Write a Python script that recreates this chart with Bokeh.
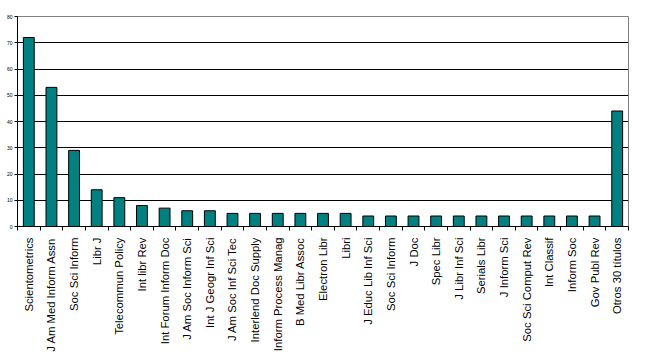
from bokeh.plotting import figure
from bokeh.models import Range1d, FixedTicker, ColumnDataSource
from bokeh.embed import file_html
from bokeh.resources import INLINE

journals = [
    "Scientometrics", "J Am Med Inform Assn", "Soc Sci Inform", "Libr J",
    "Telecommun Policy", "Int libr Rev", "Int Forum Inform Doc",
    "J Am Soc Inform Sci", "Int J Geogr Inf Sci", "J Am Soc Inf Sci Tec",
    "Interlend Doc Supply", "Inform Process Manag", "B Med Libr Assoc",
    "Electron Libr", "Libri", "J Educ Lib Inf Sci", "Soc Sci Inform",
    "J Doc", "Spec Libr", "J Libr Inf Sci", "Serials Libr", "J Inform Sci",
    "Soc Sci Comput Rev", "Int Classif", "Inform Soc", "Gov Publ Rev",
    "Otros 30 títulos",
]
counts = [72, 53, 29, 14, 11, 8, 7, 6, 6, 5, 5, 5, 5, 5, 5,
          4, 4, 4, 4, 4, 4, 4, 4, 4, 4, 4, 44]
y_ticks = [0, 10, 20, 30, 40, 50, 60, 70, 80]

n = len(journals)
centers = [i + 0.5 for i in range(n)]
bounds = list(range(n + 1))

src = ColumnDataSource(dict(x=centers, y=counts))

p = figure(frame_width=611, frame_height=210, output_backend="svg",
           toolbar_location=None, x_range=Range1d(0, n), y_range=Range1d(0, 80),
           min_border_top=16, min_border_left=17, min_border_right=13,
           min_border_bottom=0)
p.background_fill_color = "white"
p.border_fill_color = "white"
p.outline_line_color = "#808080"
p.outline_line_width = 1

p.vbar(x="x", top="y", width=0.48, source=src, fill_color="#008080",
       line_color="black", line_width=1)

p.xgrid.visible = False
p.ygrid.ticker = FixedTicker(ticks=y_ticks[1:-1])
p.ygrid.grid_line_color = "black"
p.ygrid.grid_line_width = 1

xa = p.xaxis[0]
xa.ticker = FixedTicker(ticks=centers, minor_ticks=bounds)
xa.major_label_overrides = {c: j for c, j in zip(centers, journals)}
xa.major_label_orientation = 1.5707963
xa.major_tick_line_color = None
xa.minor_tick_line_color = "black"
xa.minor_tick_out = 4
xa.minor_tick_in = 0
xa.major_label_standoff = 5
xa.major_label_text_font = "Liberation Sans"
xa.major_label_text_font_size = "11.3px"
xa.major_label_text_color = "black"
xa.axis_line_color = "black"

ya = p.yaxis[0]
ya.ticker = FixedTicker(ticks=y_ticks)
ya.major_tick_out = 3
ya.major_tick_in = 0
ya.minor_tick_line_color = None
ya.major_label_standoff = 2
ya.major_label_text_font = "Liberation Sans"
ya.major_label_text_font_size = "5px"
ya.major_label_text_color = "black"
ya.axis_line_color = "black"

open("out.html", "w").write(file_html(p, INLINE))
